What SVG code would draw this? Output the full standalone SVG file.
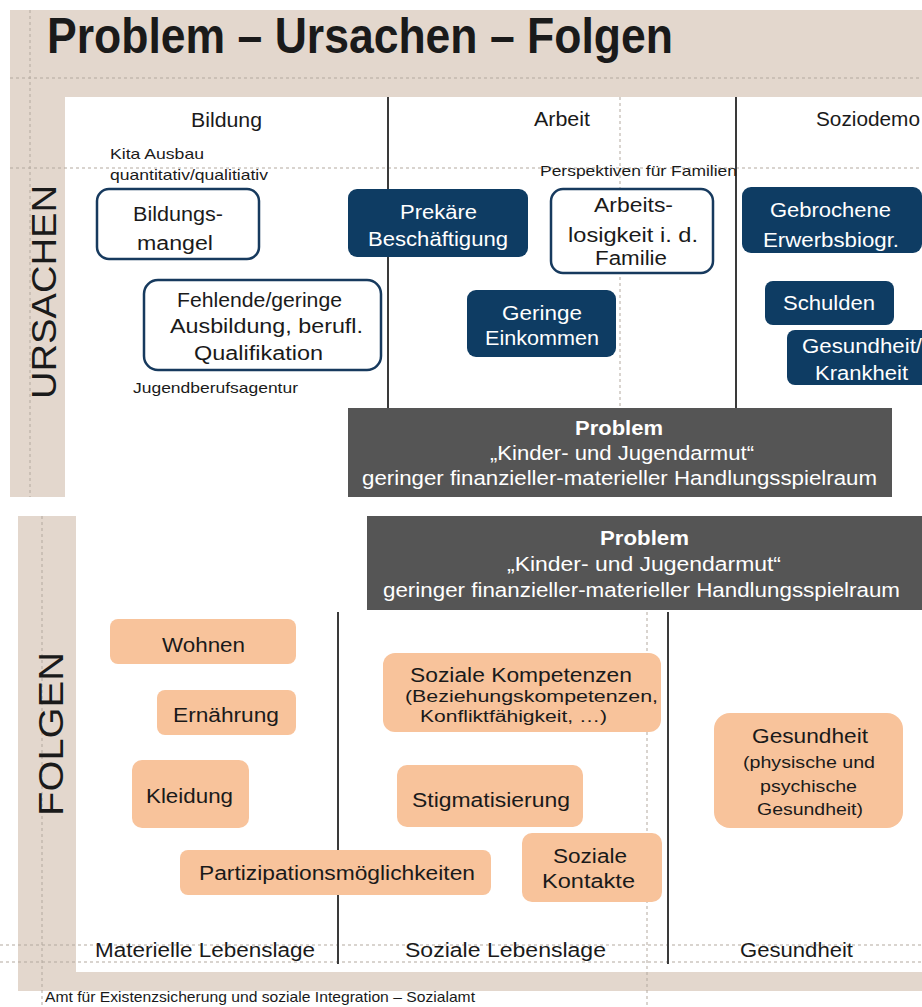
<svg xmlns="http://www.w3.org/2000/svg" width="922" height="1007" viewBox="0 0 922 1007">
<style>
text{font-family:"Liberation Sans",Arial,sans-serif;fill:#1a1a1a;font-size:20px}
.sm{font-size:15px}
.sub{font-size:16px}
.ttl{font-size:50px;font-weight:bold}
.w{fill:#ffffff}
.out{fill:#ffffff;stroke:#173a5e;stroke-width:2.5}
.blue{fill:#0e3c63}
.org{fill:#f8c39b}
.prob{fill:#555555}
.div{stroke:#3a3a3a;stroke-width:2}
.guide{stroke:#b3a99f;stroke-width:1;stroke-dasharray:3 3;fill:none}
.side{font-size:35px;text-anchor:middle}
</style>
<rect width="922" height="1007" fill="#ffffff"/>
<g id="background">
<rect x="10" y="10" width="912" height="487" fill="#e3d7cd"/>
<rect x="65" y="97" width="857" height="400" fill="#ffffff"/>
<rect x="18" y="516" width="904" height="475" fill="#e3d7cd"/>
<rect x="76" y="516" width="846" height="456" fill="#ffffff"/>
</g>
<g id="guides">
<line class="guide" x1="10" y1="78" x2="922" y2="78"/>
<line class="guide" x1="10" y1="168" x2="922" y2="168"/>
<line class="guide" x1="30" y1="10" x2="30" y2="497"/>
<line class="guide" x1="620" y1="97" x2="620" y2="497"/>
<line class="guide" x1="42" y1="516" x2="42" y2="1007"/>
<line class="guide" x1="0" y1="945" x2="922" y2="945"/>
<line class="guide" x1="0" y1="962" x2="922" y2="962"/>
<line class="guide" x1="647" y1="516" x2="647" y2="1007"/>
</g>
<g id="title"><text class="ttl" x="47" y="53" textLength="626" lengthAdjust="spacingAndGlyphs">Problem – Ursachen – Folgen</text></g>
<g id="ursachen-label"><text class="side" transform="translate(56,292) rotate(-90)" textLength="214" lengthAdjust="spacingAndGlyphs">URSACHEN</text></g>
<g id="folgen-label"><text class="side" transform="translate(63,734) rotate(-90)" textLength="164" lengthAdjust="spacingAndGlyphs">FOLGEN</text></g>
<g id="dividers">
<line class="div" x1="388" y1="97" x2="388" y2="409"/>
<line class="div" x1="736" y1="97" x2="736" y2="409"/>
<line class="div" x1="338" y1="612" x2="338" y2="964"/>
<line class="div" x1="668" y1="612" x2="668" y2="964"/>
</g>
<g id="headers">
<text x="191" y="127" textLength="71" lengthAdjust="spacingAndGlyphs">Bildung</text>
<text x="534" y="126" textLength="56" lengthAdjust="spacingAndGlyphs">Arbeit</text>
<text x="816" y="126" textLength="104" lengthAdjust="spacingAndGlyphs">Soziodemo</text>
<text class="sm" x="110" y="159" textLength="94" lengthAdjust="spacingAndGlyphs">Kita Ausbau</text>
<text class="sm" x="110" y="180" textLength="158" lengthAdjust="spacingAndGlyphs">quantitativ/qualitiativ</text>
<text class="sm" x="540" y="176" textLength="197" lengthAdjust="spacingAndGlyphs">Perspektiven für Familien</text>
<text class="sm" x="133" y="393" textLength="165" lengthAdjust="spacingAndGlyphs">Jugendberufsagentur</text>
</g>
<g id="bildungsmangel"><rect class="out" x="97" y="189" width="162" height="70" rx="12"/><text x="133" y="221" textLength="90" lengthAdjust="spacingAndGlyphs">Bildungs-</text><text x="137" y="250" textLength="76" lengthAdjust="spacingAndGlyphs">mangel</text></g>
<g id="fehlende-ausbildung"><rect class="out" x="144" y="280" width="237" height="90" rx="14"/><text x="177" y="307" textLength="165" lengthAdjust="spacingAndGlyphs">Fehlende/geringe</text><text x="170" y="333" textLength="193" lengthAdjust="spacingAndGlyphs">Ausbildung, berufl.</text><text x="194" y="360" textLength="129" lengthAdjust="spacingAndGlyphs">Qualifikation</text></g>
<g id="prekaere"><rect class="blue" x="348" y="189" width="180" height="68" rx="9"/><text class="w" x="400" y="219" textLength="77" lengthAdjust="spacingAndGlyphs">Prekäre</text><text class="w" x="368" y="246" textLength="140" lengthAdjust="spacingAndGlyphs">Beschäftigung</text></g>
<g id="arbeitslosigkeit"><rect class="out" x="551" y="189" width="162" height="84" rx="12"/><text x="594" y="212" textLength="79" lengthAdjust="spacingAndGlyphs">Arbeits-</text><text x="568" y="242" textLength="130" lengthAdjust="spacingAndGlyphs">losigkeit i. d.</text><text x="595" y="265" textLength="72" lengthAdjust="spacingAndGlyphs">Familie</text></g>
<g id="einkommen"><rect class="blue" x="467" y="290" width="149" height="67" rx="9"/><text class="w" x="502" y="320" textLength="80" lengthAdjust="spacingAndGlyphs">Geringe</text><text class="w" x="485" y="345" textLength="114" lengthAdjust="spacingAndGlyphs">Einkommen</text></g>
<g id="erwerbsbiogr"><rect class="blue" x="742" y="187" width="180" height="66" rx="9"/><text class="w" x="770" y="217" textLength="121" lengthAdjust="spacingAndGlyphs">Gebrochene</text><text class="w" x="763" y="247" textLength="136" lengthAdjust="spacingAndGlyphs">Erwerbsbiogr.</text></g>
<g id="schulden"><rect class="blue" x="765" y="281" width="129" height="44" rx="8"/><text class="w" x="783" y="310" textLength="92" lengthAdjust="spacingAndGlyphs">Schulden</text></g>
<g id="gesundheit-krankheit"><rect class="blue" x="787" y="330" width="145" height="55" rx="8"/><text class="w" x="802" y="353" textLength="120" lengthAdjust="spacingAndGlyphs">Gesundheit/</text><text class="w" x="815" y="380" textLength="93" lengthAdjust="spacingAndGlyphs">Krankheit</text></g>
<g id="problem-top"><rect class="prob" x="348" y="408" width="544" height="89"/><text class="w" x="575" y="435" font-weight="bold" textLength="88" lengthAdjust="spacingAndGlyphs">Problem</text><text class="w" x="490" y="460" textLength="264" lengthAdjust="spacingAndGlyphs">„Kinder- und Jugendarmut“</text><text class="w" x="362" y="485" textLength="515" lengthAdjust="spacingAndGlyphs">geringer finanzieller-materieller Handlungsspielraum</text></g>
<g id="problem-bottom"><rect class="prob" x="367" y="516" width="555" height="94"/><text class="w" x="600" y="545" font-weight="bold" textLength="89" lengthAdjust="spacingAndGlyphs">Problem</text><text class="w" x="507" y="571" textLength="274" lengthAdjust="spacingAndGlyphs">„Kinder- und Jugendarmut“</text><text class="w" x="383" y="597" textLength="517" lengthAdjust="spacingAndGlyphs">geringer finanzieller-materieller Handlungsspielraum</text></g>
<g id="wohnen"><rect class="org" x="110" y="619" width="186" height="45" rx="8"/><text x="162" y="652" textLength="83" lengthAdjust="spacingAndGlyphs">Wohnen</text></g>
<g id="ernaehrung"><rect class="org" x="157" y="690" width="139" height="45" rx="8"/><text x="173" y="722" textLength="106" lengthAdjust="spacingAndGlyphs">Ernährung</text></g>
<g id="kleidung"><rect class="org" x="132" y="760" width="117" height="68" rx="10"/><text x="146" y="803" textLength="87" lengthAdjust="spacingAndGlyphs">Kleidung</text></g>
<g id="partizipation"><rect class="org" x="180" y="850" width="311" height="45" rx="8"/><text x="199" y="880" textLength="276" lengthAdjust="spacingAndGlyphs">Partizipationsmöglichkeiten</text></g>
<g id="soziale-kompetenzen"><rect class="org" x="383" y="653" width="278" height="79" rx="12"/><text x="410" y="682" textLength="222" lengthAdjust="spacingAndGlyphs">Soziale Kompetenzen</text><text class="sub" x="405" y="702" textLength="253" lengthAdjust="spacingAndGlyphs">(Beziehungskompetenzen,</text><text class="sub" x="420" y="722" textLength="187" lengthAdjust="spacingAndGlyphs">Konfliktfähigkeit, …)</text></g>
<g id="stigmatisierung"><rect class="org" x="397" y="765" width="186" height="62" rx="10"/><text x="412" y="807" textLength="158" lengthAdjust="spacingAndGlyphs">Stigmatisierung</text></g>
<g id="soziale-kontakte"><rect class="org" x="522" y="833" width="140" height="69" rx="10"/><text x="553" y="863" textLength="74" lengthAdjust="spacingAndGlyphs">Soziale</text><text x="542" y="888" textLength="93" lengthAdjust="spacingAndGlyphs">Kontakte</text></g>
<g id="gesundheit"><rect class="org" x="714" y="713" width="189" height="115" rx="16"/><text x="752" y="743" textLength="116" lengthAdjust="spacingAndGlyphs">Gesundheit</text><text class="sub" x="743" y="768" textLength="132" lengthAdjust="spacingAndGlyphs">(physische und</text><text class="sub" x="760" y="792" textLength="97" lengthAdjust="spacingAndGlyphs">psychische</text><text class="sub" x="757" y="815" textLength="106" lengthAdjust="spacingAndGlyphs">Gesundheit)</text></g>
<g id="footer-labels">
<text x="95" y="957" textLength="220" lengthAdjust="spacingAndGlyphs">Materielle Lebenslage</text>
<text x="405" y="957" textLength="201" lengthAdjust="spacingAndGlyphs">Soziale Lebenslage</text>
<text x="740" y="957" textLength="113" lengthAdjust="spacingAndGlyphs">Gesundheit</text>
<text class="sm" x="45" y="1002" textLength="430" lengthAdjust="spacingAndGlyphs">Amt für Existenzsicherung und soziale Integration – Sozialamt</text>
</g>
</svg>
